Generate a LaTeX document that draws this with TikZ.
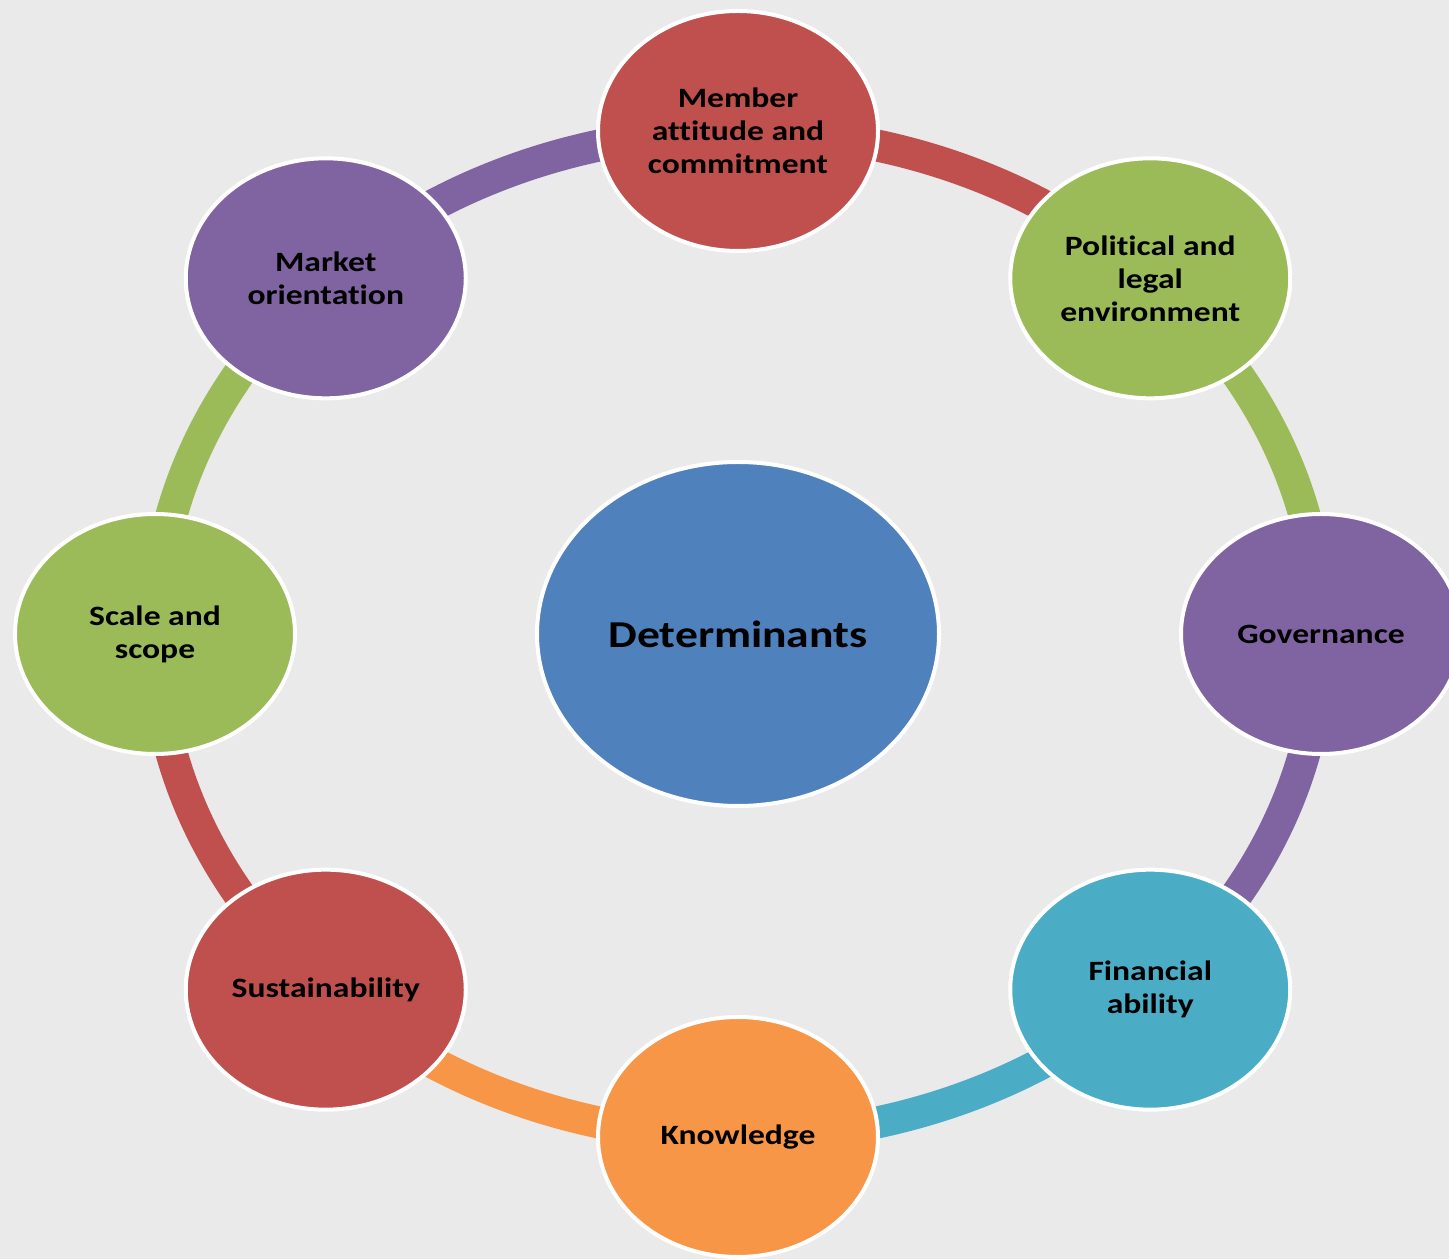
\documentclass[tikz,border=0pt]{standalone}
\usepackage{fontspec}
\setmainfont{Carlito}[FakeStretch=1.2,Ligatures={NoCommon}]
\usetikzlibrary{shapes.geometric,calc}
\definecolor{bgc}{HTML}{EAEAEA}
\definecolor{cred}{HTML}{C0504D}
\definecolor{cgreen}{HTML}{9BBB59}
\definecolor{cpurple}{HTML}{8064A2}
\definecolor{cteal}{HTML}{4BACC6}
\definecolor{corange}{HTML}{F79646}
\definecolor{cblue}{HTML}{4F81BD}
\tikzset{
  blob/.style={ellipse, draw=white, line width=4pt, minimum width=280pt, minimum height=240pt,
    inner sep=0pt, align=center, font=\fontsize{28}{33}\selectfont\bfseries, text=black},
  ring/.style={line width=32pt}
}
\begin{document}
\begin{tikzpicture}[x=1pt,y=1pt]
\useasboundingbox (0,0) rectangle (1449,1259);
\fill[bgc] (0,0) rectangle (1449,1259);
\clip (0,0) rectangle (1449,1259);
\coordinate (C) at (738,625);
\foreach \n/\a in {m/90,p/45,g/0,f/-45,k/-90,s/-135,c/180,o/135}{
  \coordinate (\n) at ($(C)+(\a:583 and 503)$);
}
\draw[ring,cred]    (m) arc[start angle=90,end angle=45,x radius=583,y radius=503];
\draw[ring,cgreen]  (p) arc[start angle=45,end angle=0,x radius=583,y radius=503];
\draw[ring,cpurple] (g) arc[start angle=0,end angle=-45,x radius=583,y radius=503];
\draw[ring,cteal]   (f) arc[start angle=-45,end angle=-90,x radius=583,y radius=503];
\draw[ring,corange] (k) arc[start angle=-90,end angle=-135,x radius=583,y radius=503];
\draw[ring,cred]    (s) arc[start angle=-135,end angle=-180,x radius=583,y radius=503];
\draw[ring,cgreen]  (c) arc[start angle=180,end angle=135,x radius=583,y radius=503];
\draw[ring,cpurple] (o) arc[start angle=135,end angle=90,x radius=583,y radius=503];
\node[blob,fill=cblue,minimum width=402pt,minimum height=344pt,font=\fontsize{38}{46}\selectfont\bfseries] (det) at (C) {Determinants};
\node[blob,fill=cred]    (nm) at (m) {Member\\attitude and\\commitment};
\node[blob,fill=cgreen]  (np) at (p) {Political and\\legal\\environment};
\node[blob,fill=cpurple] (ng) at (g) {Governance};
\node[blob,fill=cteal]   (nf) at (f) {Financial\\ability};
\node[blob,fill=corange] (nk) at (k) {Knowledge};
\node[blob,fill=cred]    (ns) at (s) {Sustainability};
\node[blob,fill=cgreen]  (nc) at (c) {Scale and\\scope};
\node[blob,fill=cpurple] (no) at (o) {Market\\orientation};
\end{tikzpicture}
\end{document}
